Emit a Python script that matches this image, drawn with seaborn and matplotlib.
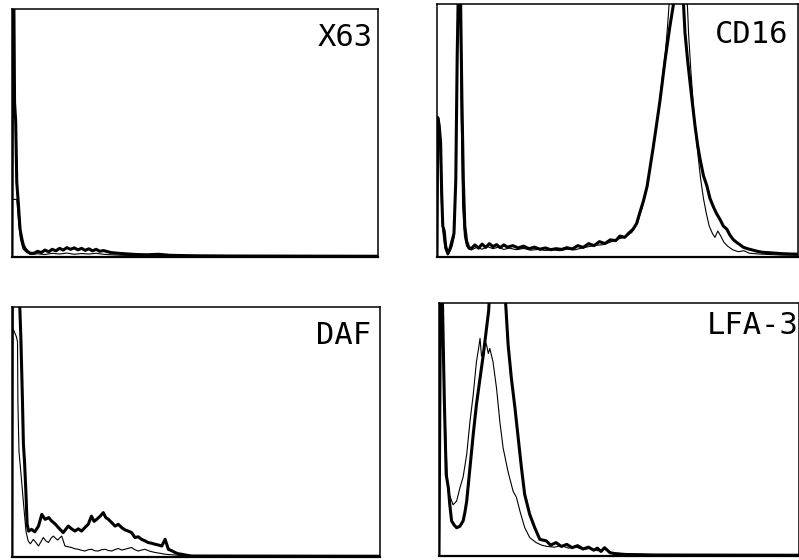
import numpy as np
import pandas as pd
import matplotlib
matplotlib.use("Agg")
import matplotlib.pyplot as plt
import seaborn as sns

# ---------------- data (x: channel as % of scale, y: counts as % of full scale) -------------
panel_labels = ["X63", "CD16", "DAF", "LFA-3"]

x63_thick_x = [0, 0.2, 0.5, 0.7, 1.0, 1.3, 1.7, 2.2, 2.7, 3.1, 3.6, 4.2, 5, 6, 7, 8, 9, 10, 11, 12, 13,
               14, 15, 16, 17, 18, 19, 20, 21, 22, 23, 24, 25, 27, 29, 31, 34, 37, 40, 43, 46, 50, 60, 100]
x63_thick_y = [0, 105, 105, 62, 55, 30, 22, 11, 7, 4.5, 3, 2, 1.2, 1.2, 2.0, 1.5, 2.5, 1.8, 2.8, 2.2, 3.2,
               2.5, 3.5, 2.8, 3.4, 2.6, 3.2, 2.4, 3.0, 2.2, 2.8, 2.0, 2.3, 1.5, 1.2, 1.0, 0.7, 0.6, 0.8, 0.4, 0.3, 0.2, 0.1, 0]
x63_thin_x = [0, 0.1, 1.3, 1.8, 2.3, 3.0, 4.0, 5, 7, 9, 11, 13, 15, 17, 19, 21, 23, 25, 27, 30, 34, 40, 50, 100]
x63_thin_y = [0, 23, 23, 14, 7, 3, 1.5, 0.8, 1.0, 0.7, 1.2, 0.9, 1.3, 0.8, 1.1, 0.9, 1.2, 0.8, 0.6, 0.4, 0.3, 0.2, 0.1, 0]

cd16_thick_x = [0, 0.2, 0.6, 1.0, 1.3, 1.6, 2.0, 2.4, 3.0, 3.6, 4.1, 4.7, 5.2, 5.6, 5.9, 6.5, 6.9, 7.3, 7.7, 8.2, 8.8,
                9.5, 10.5, 11.5, 12.5, 13.5, 14.5, 15.5, 16.5, 17.5, 18.5, 19.5, 21, 22.5, 24, 25.5, 27, 28.5, 30,
                31.5, 33, 34.5, 36, 37.5, 39, 40.5, 42, 43.5, 45, 46.5, 48, 49.5, 50.7, 52, 53, 54.3, 55.3, 56.2,
                57.2, 58.2, 59, 59.8, 60.8, 61.8, 62.5, 63.2, 63.9, 64.5, 65.4, 65.9, 68.1, 68.7, 69.4, 70.1, 70.8,
                71.5, 72.2, 72.9, 73.8, 74.8, 75.6, 76.5, 77.4, 78.4, 79.3, 80.3, 81.1, 82, 83, 84, 84.8, 86, 87.3,
                88.6, 90, 92, 95.8, 100]
cd16_thick_y = [0, 55, 52, 45, 25, 12, 10, 4, 1, 3, 5.7, 9, 30, 80, 105, 105, 62, 30, 12, 6, 3.5,
                3.0, 4.5, 3.2, 4.8, 3.5, 5.0, 3.8, 4.6, 3.4, 4.5, 3.6, 4.2, 3.3, 4.0, 3.0, 3.6, 2.8, 3.3,
                2.6, 3.0, 2.7, 3.4, 2.9, 4.2, 3.5, 5.0, 4.2, 5.8, 5.0, 6.5, 6.2, 8, 7.5, 9, 10.7, 13, 17.4,
                22, 27.7, 35, 42.3, 52, 62, 70, 78, 85, 91, 99, 105, 105, 88.5, 78, 68.8, 60,
                51.4, 44, 38.3, 32, 27.7, 23, 19.8, 17, 14.6, 12, 10.7, 8.5, 6.7, 5.5, 4.5, 3.6, 3, 2.5,
                2, 1.6, 1.4, 1, 0.8]
cd16_thin_x = [0, 0.2, 0.8, 1.2, 1.6, 2.2, 3.0, 3.6, 4.2, 4.8, 5.3, 5.8, 6.1, 6.4, 6.7, 7.1, 7.6, 8.2, 8.8,
               9.5, 11, 12.5, 14, 15.5, 17, 18.5, 20, 22, 24, 26, 28, 30, 32, 34, 36, 38, 40, 42, 44, 46, 48,
               50, 52, 54, 55.5, 57, 58.5, 59.8, 60.8, 61.7, 62.5, 63.2, 63.8, 64.3, 64.6, 69.2, 69.7, 70.3,
               70.9, 71.6, 72.3, 73, 73.8, 74.6, 75.4, 76.3, 77, 77.8, 78.6, 79.5, 80.5, 82, 83.5, 85, 86.5,
               89, 95, 100]
cd16_thin_y = [0, 50, 45, 22, 10, 3, 0.5, 2, 4, 8, 40, 100, 105, 100, 55, 20, 8, 4, 2.8,
               2.5, 3.5, 2.8, 3.8, 3, 3.6, 2.7, 3.2, 2.6, 3.1, 2.4, 2.7, 2.3, 2.6, 2.2, 2.8, 2.5, 3.2, 3.8, 4.3,
               4.6, 5.6, 6.8, 7.5, 9.5, 13, 20, 30, 42, 52, 62, 72, 80, 90, 100, 105, 105, 88, 74,
               62, 50, 40, 31, 23, 17, 12, 9, 7.5, 10, 8, 5.5, 4, 2.5, 1.8, 2.2, 1.2, 0.9, 0.5, 0.4]

daf_thick_x = [0, 0.1, 2.0, 2.4, 2.8, 3.1, 3.4, 3.8, 4.1, 4.5, 5.3, 6.2, 7.2, 8.1, 9.0, 10.0, 10.8, 11.7,
               12.6, 13.9, 15.3, 16.2, 17.1, 18.0, 18.9, 19.8, 20.7, 21.6, 22.3, 23.0, 23.9, 24.8, 25.5,
               26.2, 27.1, 28.0, 28.9, 29.8, 30.7, 31.6, 32.5, 33.4, 34.3, 35.2, 36.1, 37.0, 38.0, 38.9,
               39.8, 40.7, 41.6, 42.5, 43.4, 44.3, 45.2, 46.1, 47.5, 48.8, 100]
daf_thick_y = [0, 105, 105, 88, 65, 45, 38, 25, 13, 10.1, 10.8, 9.8, 12.1, 16.8, 14.8, 15.5, 14.1, 13,
               11.5, 9.5, 12.1, 11, 10.1, 11, 10.1, 11.5, 12.8, 16.1, 14, 14.8, 16, 17.5, 15.5,
               14.8, 13.5, 12.1, 12.8, 11.5, 10.6, 10.1, 9.5, 7.5, 7.8, 6.8, 6.2, 5.5, 5.2, 4.8,
               4.5, 4.1, 6.8, 2.8, 2.2, 1.5, 1.0, 0.8, 0.4, 0.1, 0]
daf_thin_x = [0, 0.1, 1.2, 1.5, 1.6, 1.9, 2.5, 3.2, 3.8, 4.4, 5.0, 5.8, 6.5, 7.2, 8.5, 9.2, 9.9, 10.6,
              11.2, 12.4, 13.5, 14.4, 15.3, 16.2, 17.1, 18.0, 18.9, 19.8, 20.7, 21.6, 22.5, 23.4, 24.3,
              25.3, 26.2, 27.1, 28.0, 28.9, 29.8, 30.7, 31.6, 32.5, 33.4, 34.3, 35.2, 36.1, 37.5, 38.9,
              40.2, 41.6, 43.4, 45.2, 48, 100]
daf_thin_y = [0, 92, 88, 86, 62, 42, 32, 20, 10, 6.1, 5, 6.8, 5.5, 4.1, 7.5, 6.2, 5.5, 7.2,
              8.1, 6.5, 8.1, 4.1, 3.8, 3.5, 3.0, 2.8, 2.4, 2.1, 2.6, 2.8, 2.2, 2.1, 2.6,
              2.8, 2.3, 2.1, 2.7, 3.1, 2.5, 2.8, 3.2, 3.5, 2.6, 2.1, 2.5, 2.8, 2.0, 1.5,
              1.2, 0.8, 0.6, 0.4, 0.1, 0]

lfa3_thick_x = [0, 0.4, 0.9, 1.5, 2.0, 2.6, 3.0, 3.5, 4.2, 4.9, 5.8, 6.7, 7.2, 7.7, 8.6, 9.5, 10.4, 11.4,
                12.3, 13.2, 13.8, 14.1, 18.3, 19.2, 20.1, 21.1, 22.0, 22.9, 23.8, 25.2, 26.6, 28.0, 29.8,
                31, 32.5, 34, 35.5, 37, 38.5, 40, 41.5, 43, 44, 45, 46, 47.5, 49, 52, 60, 100]
lfa3_thick_y = [0, 105, 105, 60, 32, 26.7, 20, 13.6, 12, 10.9, 11.5, 13.6, 17, 21.5, 34.7, 47.8, 59.7, 70.2,
                79.4, 90, 97, 105, 105, 83.4, 70.2, 58.4, 46.5, 34.7, 24.1, 16.2, 10.9, 6.3, 5.7,
                4.0, 5.0, 3.5, 4.3, 3.0, 3.8, 2.5, 3.2, 2.0, 2.8, 1.5, 3.0, 1.0, 0.6, 0.3, 0.1, 0]
lfa3_thin_x = [0, 0.3, 1.0, 1.8, 2.3, 2.9, 3.4, 3.9, 4.9, 5.8, 6.7, 7.7, 8.6, 9.5, 10.4, 11.0, 11.4, 11.8,
               12.3, 12.8, 13.2, 13.7, 14.1, 15.0, 16.0, 16.9, 17.8, 19.2, 20.6, 21.5, 22.5, 23.8, 25.2,
               27.0, 28.5, 30, 32, 34, 36, 38, 40, 42, 44, 46, 48, 52, 60, 100]
lfa3_thin_y = [0, 95, 90, 50, 30, 24, 22, 20, 21.5, 26.7, 31, 40, 53, 63.6, 76.7, 82, 86, 79,
               80.6, 85, 83.4, 80, 82, 76.7, 66, 53, 42.6, 33, 25.3, 23, 17.4, 11, 7,
               5, 4, 3.5, 3.2, 3.8, 2.8, 3.3, 2.2, 2.8, 1.8, 2.4, 1.0, 0.5, 0.2, 0]

# ---------------- figure ----------------
sns.set_style("white")
plt.rcParams["font.family"] = ["DejaVu Sans Mono", "DejaVu Sans"]

W, H = 799, 560
fig = plt.figure(figsize=(W / 100, H / 100), dpi=100)

# axes rectangles in pixels: (left, top, right, bottom)
rects = [(12, 9, 378, 257), (437, 4, 798, 257), (12, 307, 380, 557), (439, 303, 799, 556)]
curves = [
    (x63_thick_x, x63_thick_y, x63_thin_x, x63_thin_y),
    (cd16_thick_x, cd16_thick_y, cd16_thin_x, cd16_thin_y),
    (daf_thick_x, daf_thick_y, daf_thin_x, daf_thin_y),
    (lfa3_thick_x, lfa3_thick_y, lfa3_thin_x, lfa3_thin_y),
]
label_pos = [(0.985, 0.885), (0.972, 0.88), (0.975, 0.888), (1.0, 0.913)]

for (l, t, r, b), (tx, ty, nx, ny), lab, (lx, ly) in zip(rects, curves, panel_labels, label_pos):
    ax = fig.add_axes([l / W, 1 - b / H, (r - l) / W, (b - t) / H])
    thin_df = pd.DataFrame({"x": nx, "y": ny})
    thick_df = pd.DataFrame({"x": tx, "y": ty})
    sns.lineplot(data=thin_df, x="x", y="y", ax=ax, color="black", linewidth=0.8,
                 sort=False, estimator=None)
    sns.lineplot(data=thick_df, x="x", y="y", ax=ax, color="black", linewidth=2.2,
                 sort=False, estimator=None)
    ax.set_xlim(0, 100)
    ax.set_ylim(-0.3, 100)
    ax.set_xticks([])
    ax.set_yticks([])
    ax.set_xlabel("")
    ax.set_ylabel("")
    for s in ax.spines.values():
        s.set_visible(True)
        s.set_color("black")
        s.set_linewidth(1.1)
    ax.spines["bottom"].set_linewidth(1.6)
    ax.text(lx, ly, lab, transform=ax.transAxes, ha="right", va="center",
            fontsize=22, color="black", clip_on=False)

fig.savefig("out.png", dpi=100)
